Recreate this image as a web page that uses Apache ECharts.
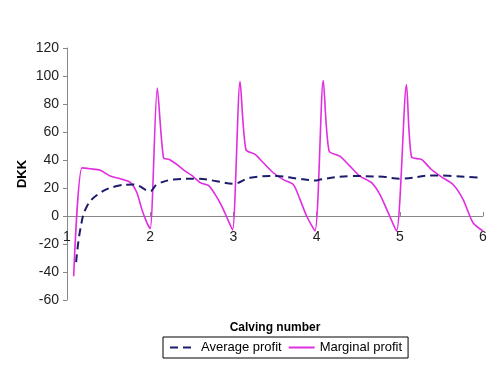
<!DOCTYPE html>
<html>
<head>
<meta charset="utf-8">
<script src="https://cdn.jsdelivr.net/npm/echarts@6/dist/echarts.min.js"></script>
<style>
  html, body { margin: 0; padding: 0; background: #fff; }
  #chart { width: 504px; height: 365px; }
</style>
</head>
<body>
<div id="chart"></div>
<script>
// values (calving number, DKK)
const avgX = [1.11, 1.16, 1.24, 1.40, 1.60, 1.80, 2.0, 2.08, 2.28, 2.56, 2.80, 3.0, 3.20, 3.52, 3.76, 4.0, 4.04, 4.40, 4.80, 5.0, 5.40, 5.96];
const avgY = [-33, -9.5, 7, 16.6, 21.4, 22.5, 17.8, 22.5, 26, 26.6, 24.9, 23, 27.3, 28.5, 26.8, 25.4, 26, 28.5, 28, 26.6, 29, 27.3];

const marginalX = [1.08, 1.18, 1.28, 1.40, 1.52, 1.64, 1.76, 1.84, 1.90, 1.96, 2.0, 2.085, 2.16, 2.23, 2.32, 2.42, 2.50, 2.60, 2.70, 2.78, 2.86, 2.94, 2.99,
  3.08, 3.15, 3.26, 3.36, 3.48, 3.60, 3.72, 3.80, 3.88, 3.98, 4.08, 4.15, 4.28, 4.40, 4.52, 4.66, 4.76, 4.86, 4.96,
  5.08, 5.14, 5.26, 5.38, 5.50, 5.64, 5.76, 5.88, 6.0];
const marginalY = [-43, 34.4, 33.7, 32.7, 28.5, 26.6, 24, 16.6, 4.7, -4.7, -9, 91.4, 41.5, 40.4, 36.8, 32, 29, 23.8, 21.8, 15.4, 7.1, -3.5, -10,
  96, 47.5, 44, 38, 30.9, 26, 22.5, 11.9, 0, -10.7, 96.8, 46.3, 42.7, 35.6, 28.5, 23.8, 15.4, 2.4, -10.7,
  93.7, 42.3, 40.4, 33.2, 28, 22.5, 11.9, -4.8, -10.7];

const xTicks = [1, 2, 3, 4, 5, 6];
const yTicks = [-60, -40, -20, 0, 20, 40, 60, 80, 100, 120];

const zip = (xs, ys) => xs.map((x, i) => [x, ys[i]]);

const chart = echarts.init(document.getElementById('chart'), null, { renderer: 'canvas' });
const font = 'Liberation Sans, Arial, sans-serif';

chart.setOption({
  animation: false,
  backgroundColor: '#fff',
  textStyle: { fontFamily: font },
  grid: { left: 67, right: 21, top: 48, bottom: 65, containLabel: false, outerBoundsMode: 'none' },
  legend: {
    left: 163, top: 337,
    padding: [4, 6, 4, 6],
    borderColor: '#000', borderWidth: 1,
    itemWidth: 26, itemHeight: 10, itemGap: 6,
    itemStyle: { opacity: 0 },
    textStyle: { fontFamily: font, fontSize: 13, color: '#000' },
    data: ['Average profit', 'Marginal profit']
  },
  xAxis: {
    type: 'value',
    min: xTicks[0], max: xTicks[xTicks.length - 1], interval: 1,
    // axis crosses the y axis at 0, like the original: shift it up from the grid bottom
    offset: -84,
    name: 'Calving number', nameLocation: 'middle', nameGap: 106, nameMoveOverlap: false,
    nameTextStyle: { fontWeight: 'bold', fontSize: 12, color: '#000', fontFamily: font },
    axisLine: { onZero: false, lineStyle: { color: '#888', width: 1 } },
    axisTick: { show: true, inside: true, length: 4, lineStyle: { color: '#888' } },
    axisLabel: { color: '#222', fontSize: 14, margin: 14, fontFamily: font,
      formatter: v => xTicks.includes(v) ? String(v) : '' },
    splitLine: { show: false }
  },
  yAxis: {
    type: 'value',
    min: yTicks[0], max: yTicks[yTicks.length - 1], interval: 20,
    name: 'DKK', nameLocation: 'middle', nameGap: 38, nameRotate: 90, nameMoveOverlap: false,
    nameTextStyle: { fontWeight: 'bold', fontSize: 13, color: '#000', fontFamily: font },
    axisLine: { show: true, onZero: false, lineStyle: { color: '#888', width: 1 } },
    axisTick: { show: true, length: 4, lineStyle: { color: '#888' } },
    axisLabel: { color: '#222', fontSize: 14, margin: 8, fontFamily: font },
    splitLine: { show: false }
  },
  series: [
    {
      name: 'Average profit',
      type: 'line',
      data: zip(avgX, avgY),
      smooth: 0.4,
      showSymbol: false, symbol: 'none',
      lineStyle: { color: '#1c1c6b', width: 2, type: [8, 5] },
      itemStyle: { color: '#1c1c6b' },
      z: 3
    },
    {
      name: 'Marginal profit',
      type: 'line',
      data: zip(marginalX, marginalY),
      smooth: 0.25,
      showSymbol: false, symbol: 'none',
      lineStyle: { color: '#e02ee0', width: 1.6 },
      itemStyle: { color: '#e02ee0' },
      z: 2
    }
  ]
});
</script>
</body>
</html>
